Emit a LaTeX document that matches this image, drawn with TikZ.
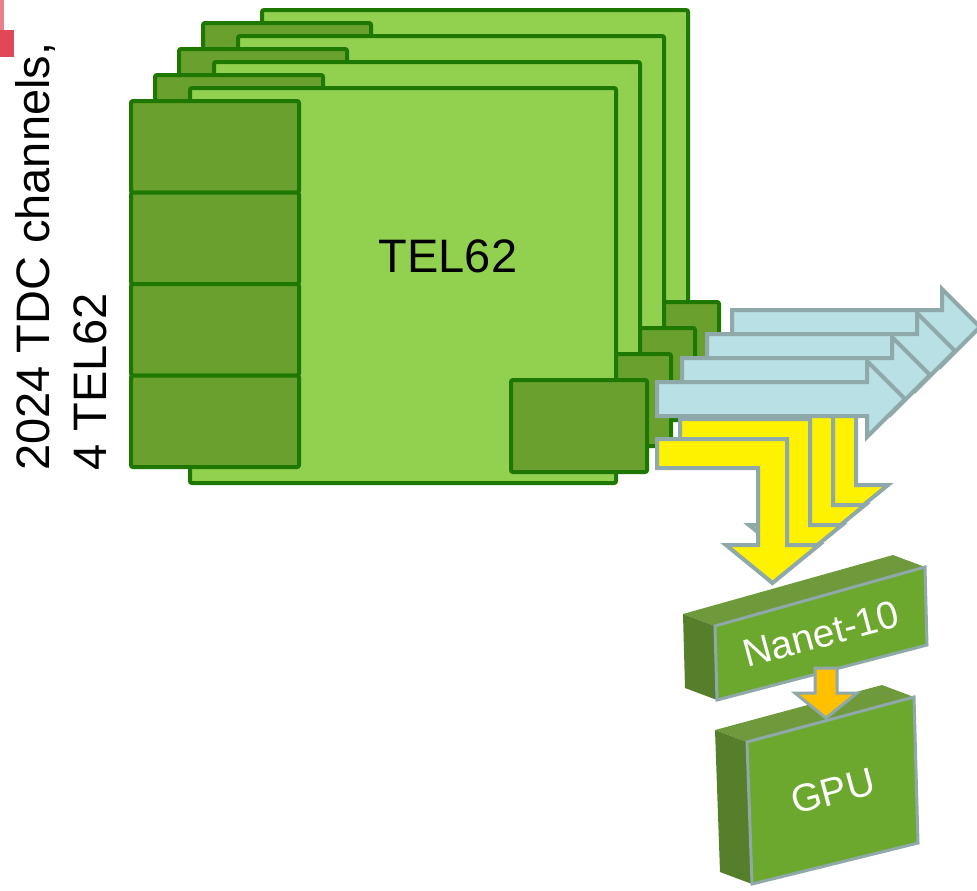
\documentclass[tikz,border=0pt]{standalone}
\usepackage{fontspec}
\setmainfont{Liberation Sans}
\usetikzlibrary{calc}

\definecolor{boardlight}{HTML}{92D050}
\definecolor{boarddark}{HTML}{6AA12E}
\definecolor{boardline}{HTML}{1E7800}
\definecolor{linkfill}{HTML}{B9E0E4}
\definecolor{linkline}{HTML}{8FA8AA}
\definecolor{cardface}{HTML}{6CA82E}
\definecolor{cardtop}{HTML}{6F9A3B}
\definecolor{cardside}{HTML}{567F2C}
\definecolor{pcie}{HTML}{FFC000}
\definecolor{markred}{HTML}{E04858}

\tikzset{
	board/.style={draw=boardline,line width=1mm,rounded corners=0.5mm,fill=boardlight},
	connector/.style={board,fill=boarddark},
	link/.style={draw=linkline,line width=1mm,fill=linkfill},
	trigger/.style={draw=linkline,line width=1mm,fill=yellow},
	face/.style={draw=linkline,line width=0.75mm,fill=cardface},
}

\begin{document}
\begin{tikzpicture}[x=0.25mm,y=-0.25mm]
	\useasboundingbox (0,0) rectangle (977,890);

	% corner mark
	\fill[markred!70] (0,0) rectangle (4,30);
	\fill[markred] (0,30) rectangle (14,57);

	% TEL62 boards, back to front
	\foreach \k in {3,2,1,0} {
		\begin{scope}[shift={(24*\k,-26*\k)}]
			\draw[board] (190,88) rectangle (616,483);
			\foreach \r in {0,...,3}
				\draw[connector] (131,101+91.5*\r) rectangle (299,192.5+91.5*\r);
			\draw[connector] (511,380) rectangle (647,472);
		\end{scope}
	}
	\node[font=\fontsize{33.4}{40}\selectfont] (tel) at (448,256) {TEL62};

	\node[rotate=90,anchor=north west,inner sep=0,align=left,
		font=\fontsize{33.4}{40.4}\selectfont] (chan) at (15,471)
		{2024 TDC channels,\\4 TEL62};

	% trigger primitives down to the card
	\foreach \k in {3,2,1,0} {
		\begin{scope}[shift={(23*\k,-20*\k)}]
			\draw[trigger] (657,439) -- (787,439) -- (787,545) -- (819,545)
				-- (772.5,583) -- (726,545) -- (758,545) -- (758,468)
				-- (657,468) -- cycle;
		\end{scope}
	}

	% data links to the right
	\foreach \k in {3,2,1,0} {
		\begin{scope}[shift={(25*\k,-24*\k)}]
			\draw[link] (657,382) -- (867,382) -- (867,361) -- (905,399)
				-- (867,437) -- (867,416) -- (657,416) -- cycle;
		\end{scope}
	}

	% Nanet-10 card
	\coordinate (n1) at (715,626);
	\coordinate (n2) at (925,567);
	\coordinate (n3) at (927,645);
	\coordinate (n4) at (717,700);
	\fill[cardtop] (n1) -- (n2) -- ++(-32,-12) -- ($(n1)+(-32,-12)$) -- cycle;
	\fill[cardside] (n1) -- ++(-32,-12) -- ($(n4)+(-32,-12)$) -- (n4) -- cycle;
	\draw[face] (n1) -- (n2) -- (n3) -- (n4) -- cycle;
	\node[rotate=15,text=white,font=\fontsize{27.7}{32}\selectfont] (nanet) at (821,634) {Nanet-10};

	% GPU
	\coordinate (g1) at (747,742);
	\coordinate (g2) at (914,697);
	\coordinate (g3) at (918,843);
	\coordinate (g4) at (752,884);
	\fill[cardtop] (g1) -- (g2) -- ++(-32,-12) -- ($(g1)+(-32,-12)$) -- cycle;
	\fill[cardside] (g1) -- ++(-32,-12) -- ($(g4)+(-32,-12)$) -- (g4) -- cycle;
	\draw[face] (g1) -- (g2) -- (g3) -- (g4) -- cycle;
	\node[rotate=15,text=white,font=\fontsize{27.7}{32}\selectfont] (gpu) at (833,791) {GPU};

	% card to GPU
	\draw[draw=linkline,line width=0.75mm,fill=pcie] (815,668) -- (837,668) -- (837,693)
		-- (857,693) -- (826,718) -- (795,693) -- (815,693) -- cycle;
\end{tikzpicture}
\end{document}
